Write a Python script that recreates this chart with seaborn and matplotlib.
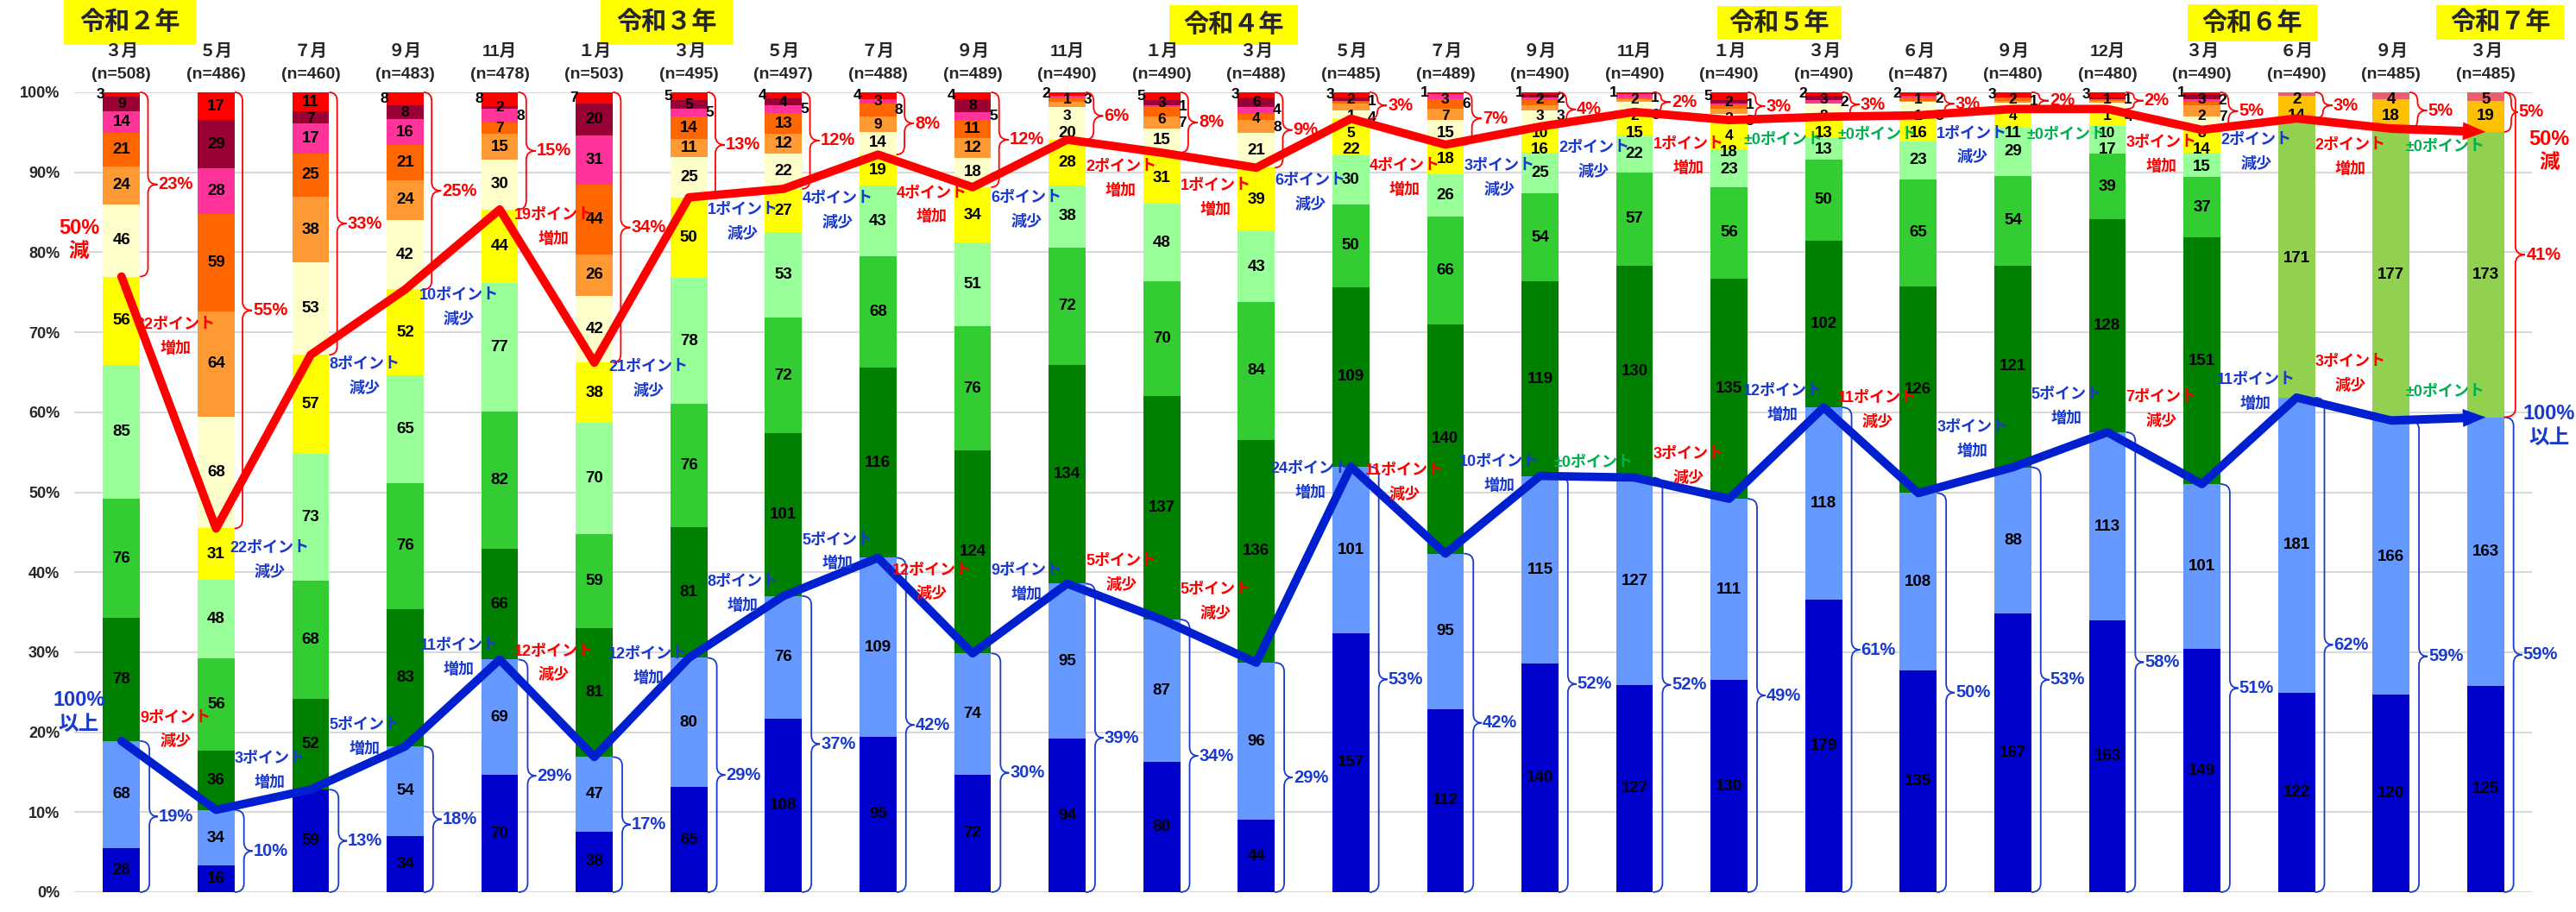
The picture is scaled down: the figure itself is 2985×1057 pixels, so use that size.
import numpy as np
import seaborn as sns
import matplotlib
matplotlib.use("Agg")
from matplotlib import pyplot as plt
from matplotlib.path import Path
from matplotlib.patches import PathPatch, Rectangle
from matplotlib.transforms import blended_transform_factory

sns.set_theme(style="white")
plt.rcParams["font.family"] = ["Liberation Sans", "Noto Sans CJK JP"]
plt.rcParams["axes.unicode_minus"] = False

# ---- data -------------------------------------------------------------
months = ["３月", "５月", "７月", "９月", "11月",
          "１月", "３月", "５月", "７月", "９月", "11月",
          "１月", "３月", "５月", "７月", "９月", "11月",
          "１月", "３月", "６月", "９月", "12月",
          "３月", "６月", "９月",
          "３月"]
n_resp = [508, 486, 460, 483, 478, 503, 495, 497, 488, 489, 490, 490, 488,
          485, 489, 490, 490, 490, 490, 487, 480, 480, 490, 490, 485, 485]
years = ["令和２年", "令和３年", "令和４年", "令和５年", "令和６年", "令和７年"]

# counts per band, bottom to top
dark_blue = [28, 16, 59, 34, 70, 38, 65, 108, 95, 72, 94, 80, 44, 157, 112, 140, 127, 130, 179, 135, 167, 163, 149, 122, 120, 125]
light_blue = [68, 34, 0, 54, 69, 47, 80, 76, 109, 74, 95, 87, 96, 101, 95, 115, 127, 111, 118, 108, 88, 113, 101, 181, 166, 163]
dark_green = [78, 36, 52, 83, 66, 81, 81, 101, 116, 124, 134, 137, 136, 109, 140, 119, 130, 135, 102, 126, 121, 128, 151, 0, 0, 0]
green = [76, 56, 68, 76, 82, 59, 76, 72, 68, 76, 72, 70, 84, 50, 66, 54, 57, 56, 50, 65, 54, 39, 37, 0, 0, 0]
light_green = [85, 48, 73, 65, 77, 70, 78, 53, 43, 51, 38, 48, 43, 30, 26, 25, 22, 23, 13, 23, 29, 17, 15, 0, 0, 0]
yellow = [56, 31, 57, 52, 44, 38, 50, 27, 19, 34, 28, 31, 39, 22, 18, 16, 15, 18, 13, 16, 11, 10, 14, 0, 0, 0]
light_yellow = [46, 68, 53, 42, 30, 42, 25, 22, 14, 18, 20, 15, 21, 5, 15, 10, 6, 4, 8, 8, 4, 4, 8, 0, 0, 0]
light_orange = [24, 64, 38, 24, 15, 26, 11, 12, 9, 12, 3, 7, 8, 4, 7, 3, 2, 3, 0, 1, 1, 1, 7, 0, 0, 0]
orange = [21, 59, 25, 21, 7, 44, 14, 13, 8, 11, 3, 6, 4, 1, 6, 3, 1, 2, 0, 2, 2, 1, 2, 0, 0, 0]
pink = [14, 28, 17, 16, 8, 31, 5, 5, 3, 5, 1, 1, 4, 1, 3, 2, 2, 1, 2, 1, 0, 0, 2, 0, 0, 0]
maroon = [9, 29, 7, 8, 2, 20, 5, 4, 0, 8, 0, 3, 6, 2, 0, 2, 0, 2, 3, 0, 0, 1, 3, 0, 0, 0]
red = [3, 17, 11, 8, 8, 7, 5, 4, 4, 4, 2, 5, 3, 3, 1, 1, 1, 5, 2, 2, 3, 3, 1, 0, 0, 0]
yellow_green = [0, 0, 0, 0, 0, 0, 0, 0, 0, 0, 0, 0, 0, 0, 0, 0, 0, 0, 0, 0, 0, 0, 0, 171, 177, 173]
gold = [0, 0, 0, 0, 0, 0, 0, 0, 0, 0, 0, 0, 0, 0, 0, 0, 0, 0, 0, 0, 0, 0, 0, 14, 18, 19]
light_red = [0, 0, 0, 0, 0, 0, 0, 0, 0, 0, 0, 0, 0, 0, 0, 0, 0, 0, 0, 0, 0, 0, 0, 2, 4, 5]

layers = [dark_blue, light_blue, dark_green, green, light_green, yellow, light_yellow,
          light_orange, orange, pink, maroon, red, yellow_green, gold, light_red]
colors = ["#0000CC", "#6699FF", "#008000", "#33CC33", "#99FF99", "#FFFF00", "#FFFFCC",
          "#FF9933", "#FF6600", "#FF3399", "#990033", "#FF0000", "#92D050", "#FFC000", "#EB5F6B"]

# ---- layout (not data) ------------------------------------------------
W, H = 2985, 1057
red_note_shift = [9.7, -13.3, -5.3, -5.8, 8.8, -10.9, -2.1, -3.4, -2.8, -4.3, -2.6, -3.2, -4.7,
                  -4.3, -3.8, -3.6, -3.6, -2.7, -2.4, -2.7, -3.2, -2.9, -2.0, -2.7, -2.1]
blue_note_shift = [7.2, 5.1, 5.4, 7.1, 7.1, 6.6, 5.6, 4.6, 4.4, 6.0, 5.0, 6.4, 12.0,
                   4.9, 6.6, 1.7, 4.2, 7.7, 6.5, 6.6, 6.9, 7.6, 7.6, 5.9, 3.3]
# year box: centre x (bar units), width (bar units), top px, bottom px
year_boxes = [(0.087, 1.40, 0, 52), (5.764, 1.40, 0, 52), (11.76, 1.36, 6, 52),
              (17.53, 1.31, 7, 46), (22.53, 1.37, 5, 48), (25.155, 1.35, 6, 46)]

RED = "#FF0000"
BLUE = "#1A3ACF"
LINE_BLUE = "#0020D0"
GREEN = "#00B050"
NOTE = 13

vals = np.array(layers, dtype=float)
n = np.array(n_resp, dtype=float)
x = np.arange(len(n_resp))
pct = vals / n * 100
pct_bottom = np.vstack([np.zeros(len(n)), np.cumsum(pct, axis=0)[:-1]])

upper = vals[[6, 7, 8, 9, 10, 11, 13, 14]].sum(axis=0)
lower = vals[[0, 1]].sum(axis=0)
red_line = 100 - upper / n * 100
blue_line = lower / n * 100
upper_pct = np.floor(upper / n * 100 + 0.5 + 1e-9).astype(int)
lower_pct = np.floor(lower / n * 100 + 0.5 + 1e-9).astype(int)


def brace(ax, x0, y0, y1, color, w=0.085, tip=0.1, lw=1.3):
    r = min(1.1, (y1 - y0) / 4)
    xm = x0 + w
    ym = (y0 + y1) / 2
    verts = [(x0, y0), (xm, y0), (xm, y0 + r), (xm, ym - r), (xm, ym), (xm + tip, ym),
             (xm, ym), (xm, ym + r), (xm, y1 - r), (xm, y1), (x0, y1)]
    codes = [Path.MOVETO, Path.CURVE3, Path.CURVE3, Path.LINETO, Path.CURVE3, Path.CURVE3,
             Path.CURVE3, Path.CURVE3, Path.LINETO, Path.CURVE3, Path.CURVE3]
    ax.add_patch(PathPatch(Path(verts, codes), fill=False, edgecolor=color, lw=lw,
                           zorder=4, clip_on=False))
    return xm + tip


def note(ax, xm, ym, d, up_col, down_col):
    if d == 0:
        ax.text(xm, ym, "±0ポイント", ha="center", va="center", fontsize=NOTE,
                fontweight="bold", color=GREEN, zorder=7)
        return
    col = up_col if d > 0 else down_col
    ax.text(xm, ym, f"{abs(d)}ポイント", ha="center", va="center", fontsize=NOTE,
            fontweight="bold", color=col, zorder=7)
    ax.text(xm, ym - 3.0, "増加" if d > 0 else "減少", ha="center", va="center",
            fontsize=NOTE, fontweight="bold", color=col, zorder=7)


fig = plt.figure(figsize=(W / 100, H / 100), dpi=100)
ax = fig.add_axes([86 / W, 23 / H, (2934 - 86) / W, (1034 - 107) / H])
ax.set_xlim(-0.5, 25.49)
ax.set_ylim(0, 100)

# stacked bars
bw = 0.39
for k in range(len(layers)):
    ax.bar(x, pct[k], bottom=pct_bottom[k], width=bw, color=colors[k], linewidth=0, zorder=2)

# segment labels: thin bands at the top are staggered left / centre / right
offs = {"L": -0.22, "C": 0.0, "R": 0.22}
for i in range(len(x)):
    last = {"L": 102.0, "C": 101.2, "R": 102.0}
    new_style = vals[12, i] > 0
    seq = None
    k = 0
    first = True
    for c in range(len(layers) - 1, -1, -1):
        v = vals[c, i]
        if v == 0:
            continue
        h = pct[c, i]
        mid = pct_bottom[c, i] + h / 2
        if h < 2.2 and not new_style:
            if seq is None:
                seq = ["L", "C", "R"] if first else ["C", "R"]
            col = seq[k] if k < len(seq) else ("C" if (k - len(seq)) % 2 == 0 else "R")
            k += 1
            size = 12.5
        else:
            col = "C"
            size = 13.5
        first = False
        y = min(mid, last[col] - 2.1)
        last[col] = y
        ax.text(i + offs[col], y, str(int(v)), ha="center", va="center", fontsize=size,
                fontweight="bold", color="black", zorder=3, clip_on=False)

# grid
ax.set_yticks(np.arange(0, 101, 10))
ax.set_yticklabels([f"{v}%" for v in range(0, 101, 10)], fontsize=13, fontweight="bold")
ax.tick_params(axis="y", length=0, pad=12)
ax.set_xticks([])
ax.yaxis.grid(True, color="#D9D9D9", lw=1.5)
ax.set_axisbelow(True)
sns.despine(ax=ax, left=True, bottom=True)

# lines
sns.lineplot(x=x[:25], y=red_line[:25], ax=ax, color=RED, lw=7, zorder=6, legend=False)
sns.lineplot(x=x[:25], y=blue_line[:25], ax=ax, color=LINE_BLUE, lw=7, zorder=6, legend=False)
for line_vals, col in [(red_line, RED), (blue_line, LINE_BLUE)]:
    ax.annotate("", xy=(x[25], line_vals[25]), xytext=(x[24], line_vals[24]),
                arrowprops=dict(arrowstyle="simple,head_length=1.9,head_width=1.5,tail_width=0.72",
                                mutation_scale=10, color=col, lw=0, shrinkA=0, shrinkB=0),
                zorder=6)

# braces + percentages
for i in range(len(x)):
    tip = brace(ax, i + bw / 2, red_line[i], 100, RED, w=0.075 if i == 25 else 0.085,
                tip=0.07 if i == 25 else 0.1)
    ax.text(tip + 0.01, (red_line[i] + 100) / 2, f"{upper_pct[i]}%", ha="left", va="center",
            fontsize=14.5, fontweight="bold", color=RED, zorder=7)
    tip = brace(ax, i + bw / 2, 0, blue_line[i], BLUE, w=0.1, tip=0.09)
    ax.text(tip + 0.01, blue_line[i] / 2, f"{lower_pct[i]}%", ha="left", va="center",
            fontsize=14.5, fontweight="bold", color=BLUE, zorder=7)

# final bar: share above the 100% line
rest = vals[[12, 13, 14], 25].sum()
tip = brace(ax, 25 + bw / 2, blue_line[25], 100, RED, w=0.12, tip=0.1)
ax.text(tip + 0.02, (blue_line[25] + 100) / 2, f"{int(np.floor(rest / n[25] * 100 + 0.5))}%",
        ha="left", va="center", fontsize=14.5, fontweight="bold", color=RED, zorder=7, clip_on=False)

# point-change notes between bars
for i in range(len(x) - 1):
    xm = i + 0.57
    note(ax, xm, (red_line[i] + red_line[i + 1]) / 2 + red_note_shift[i],
         upper_pct[i + 1] - upper_pct[i], RED, BLUE)
    note(ax, xm, (blue_line[i] + blue_line[i + 1]) / 2 + blue_note_shift[i],
         lower_pct[i + 1] - lower_pct[i], BLUE, RED)

# side captions
for sx in (-0.45, 25.67):
    hi = 83.0 if sx < 0 else 94.1
    lo = 24.0 if sx < 0 else 59.8
    ax.text(sx, hi, "50%", ha="center", va="center", fontsize=17, fontweight="bold",
            color=RED, zorder=8, clip_on=False)
    ax.text(sx, hi - 2.9, "減", ha="center", va="center", fontsize=17, fontweight="bold",
            color=RED, zorder=8, clip_on=False)
    ax.text(sx, lo, "100%", ha="center", va="center", fontsize=17, fontweight="bold",
            color=BLUE, zorder=8, clip_on=False)
    ax.text(sx, lo - 3.0, "以上", ha="center", va="center", fontsize=17, fontweight="bold",
            color=BLUE, zorder=8, clip_on=False)

# month / n headers
for i in range(len(x)):
    ax.text(i, 105.1, months[i], ha="center", va="center", fontsize=14, fontweight="bold",
            clip_on=False)
    ax.text(i, 102.2, f"(n={n_resp[i]})", ha="center", va="center", fontsize=14,
            fontweight="bold", clip_on=False)

# year boxes
trans = blended_transform_factory(ax.transData, fig.transFigure)
for label, (cx, bwid, top, bot) in zip(years, year_boxes):
    ax.add_patch(Rectangle((cx - bwid / 2, 1 - bot / H), bwid, (bot - top) / H,
                           transform=trans, facecolor="#FFFF00", edgecolor="none",
                           clip_on=False, zorder=1))
    ax.text(cx, 1 - (top + bot) / 2 / H, label, transform=trans, ha="center", va="center",
            fontsize=21, fontweight="bold", clip_on=False, zorder=2)

fig.savefig("out.png", dpi=100)
